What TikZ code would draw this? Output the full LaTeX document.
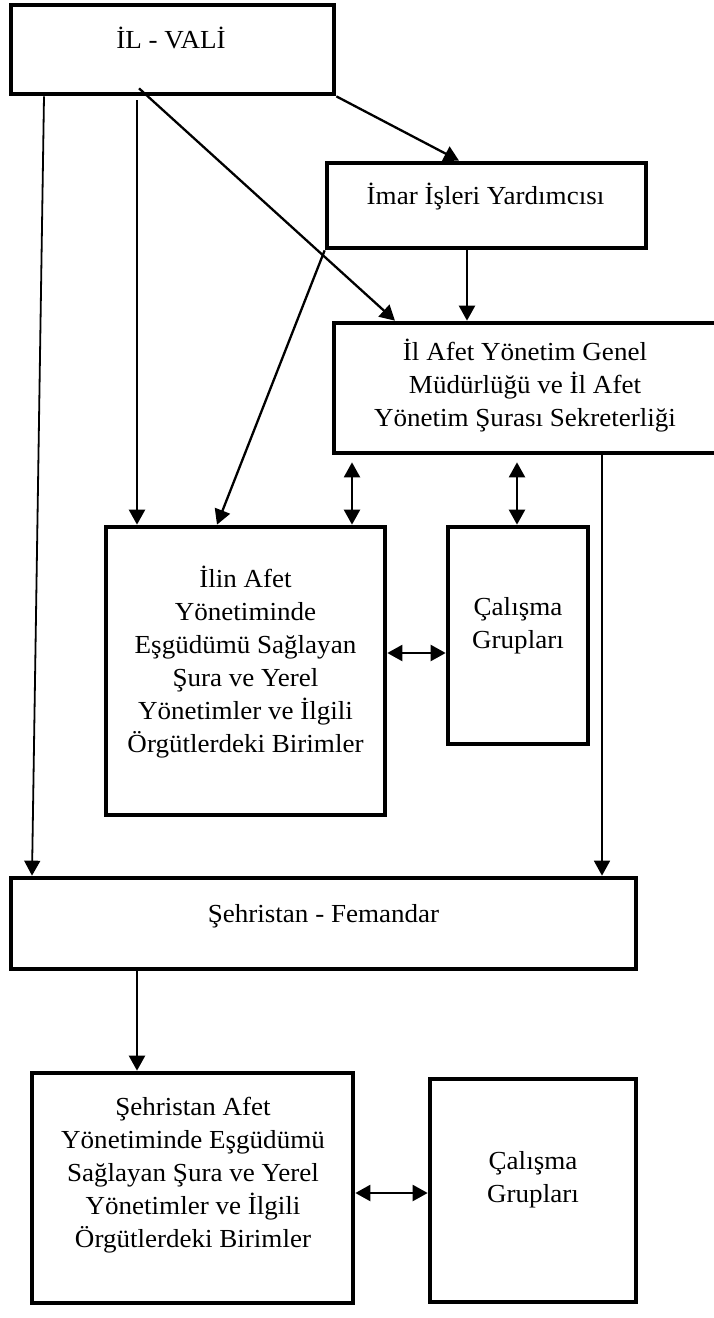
\documentclass[tikz,border=0pt]{standalone}
\usepackage{fontspec}
\setmainfont{Liberation Serif}[FakeStretch=1.04]
\usetikzlibrary{arrows.meta,calc}
\begin{document}
\begin{tikzpicture}[x=1pt,y=1pt,
  box/.style={draw, line width=4.7pt, rectangle, inner sep=0pt},
  txt/.style={font=\fontsize{26}{33}\selectfont, inner sep=0pt},
  mtxt/.style={txt, align=center},
  tip/.style={},
  conn/.style={line width=2.3pt, -{Triangle[length=15pt,width=16pt]}},
  thinconn/.style={line width=1.8pt, -{Triangle[length=15pt,width=16pt]}},
  dblconn/.style={line width=2.3pt, {Triangle[length=15pt,width=16pt]}-{Triangle[length=15pt,width=16pt]}}]
\useasboundingbox (0,0) rectangle (713,-1318);
% boxes
\node[box, minimum width=323pt, minimum height=89pt] (A) at (172.5,-49.5) {};
\node[box, minimum width=319pt, minimum height=85pt] (B) at (486.5,-205.5) {};
\node[box, minimum width=382pt, minimum height=130pt] (C) at (525,-388) {};
\node[box, minimum width=279pt, minimum height=288pt] (D) at (245.5,-671) {};
\node[box, minimum width=140pt, minimum height=217pt] (E) at (518,-635.5) {};
\node[box, minimum width=625pt, minimum height=91pt] (F) at (323.5,-923.5) {};
\node[box, minimum width=321pt, minimum height=230pt] (G) at (192.5,-1188) {};
\node[box, minimum width=206pt, minimum height=223pt] (H) at (533,-1190.5) {};
% texts
\node[txt, anchor=base] (At) at (171,-48) {İL - VALİ};
\node[txt, anchor=base] (Bt) at (485.5,-204) {İmar İşleri Yardımcısı};
\node[mtxt] (Ct) at (525,-386) {İl Afet Yönetim Genel\\Müdürlüğü ve İl Afet\\Yönetim Şurası Sekreterliği};
\node[mtxt] (Dt) at (245.5,-662) {İlin Afet\\Yönetiminde\\Eşgüdümü Sağlayan\\Şura ve Yerel\\Yönetimler ve İlgili\\Örgütlerdeki Birimler};
\node[mtxt] (Et) at (518,-626) {Çalışma\\Grupları};
\node[txt, anchor=base] (Ft) at (323.5,-922) {Şehristan - Femandar};
\node[mtxt] (Gt) at (193,-1175) {Şehristan Afet\\Yönetiminde Eşgüdümü\\Sağlayan Şura ve Yerel\\Yönetimler ve İlgili\\Örgütlerdeki Birimler};
\node[mtxt] (Ht) at (533,-1180) {Çalışma\\Grupları};
% connectors
\draw[conn] (A.south east) -- (B.north -| 459,0);
\draw[conn, shorten <=4pt] (A.south -| 137,0) -- (D.north -| 137,0);
\draw[conn] ($(A.south -| 139,0)+(0,8)$) -- (C.north -| 395,0);
\draw[thinconn] (A.south -| 44,0) -- (F.north -| 32,0);
\draw[conn] (B.south west) -- (D.north -| 217,0);
\draw[conn] (B.south -| 467,0) -- (C.north -| 467,0);
\draw[dblconn] ($(C.south -| 352,0)+(0,-7)$) -- (D.north -| 352,0);
\draw[dblconn] ($(C.south -| 517,0)+(0,-7)$) -- (E.north -| 517,0);
\draw[thinconn] (C.south -| 602,0) -- (F.north -| 602,0);
\draw[dblconn] (D.east |- 0,-653) -- (E.west |- 0,-653);
\draw[conn] (F.south -| 137,0) -- (G.north -| 137,0);
\draw[dblconn] (G.east |- 0,-1193) -- (H.west |- 0,-1193);
\end{tikzpicture}
\end{document}
